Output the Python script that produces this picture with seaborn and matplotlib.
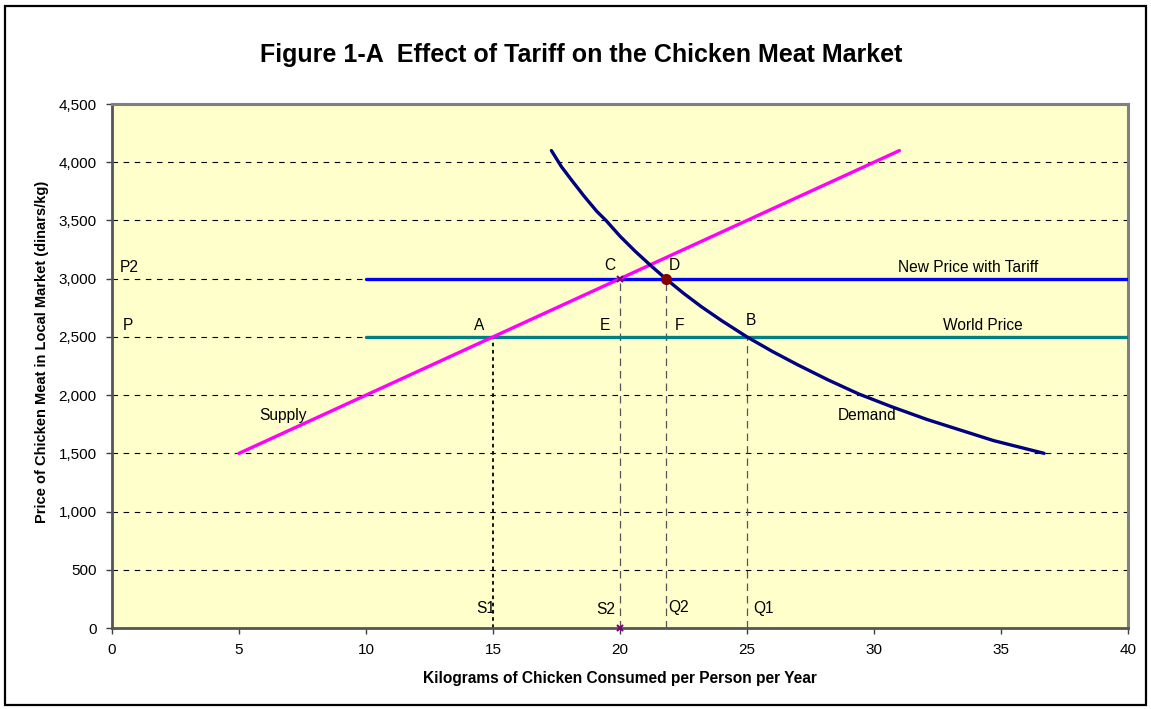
import matplotlib
matplotlib.use("Agg")
import matplotlib.pyplot as plt
import pandas as pd
import seaborn as sns

# ---------------------------
# Data
# ---------------------------

supply_qty = [5, 31]
supply_price = [1500, 4100]

demand_qty = [17.3, 17.7, 18.1, 18.6, 19.1, 19.45, 20.0, 20.6, 21.2, 21.8, 22.5, 23.2,
              24.0, 25.0, 26.0, 27.0, 28.2, 29.4, 30.7, 32.1, 33.4, 34.7, 35.7, 36.7]
demand_price = [4100, 3960, 3845, 3705, 3575, 3500, 3365, 3235, 3115, 3000, 2875, 2760,
                2640, 2500, 2375, 2260, 2130, 2010, 1900, 1790, 1700, 1610, 1555, 1500]

tariff_qty = [10, 40]
tariff_price = [3000, 3000]

world_qty = [10, 40]
world_price = [2500, 2500]

# drop lines: quantity, price level
s1 = (15, 2500)
s2 = (20, 3000)
q2 = (21.8, 3000)
q1 = (25, 2500)

point_d = (21.8, 3000)
point_c = (20, 3000)

x_ticks = list(range(0, 45, 5))
y_ticks = list(range(0, 5000, 500))

sns.set_style("white")
plt.rcParams["font.family"] = ["Liberation Sans", "DejaVu Sans"]
plt.rcParams.update({"text.color": "black", "axes.labelcolor": "black",
                     "xtick.color": "black", "ytick.color": "black"})

fig = plt.figure(figsize=(11.51, 7.09), dpi=100)
ax = fig.add_axes([0.0973, 0.1142, 0.8827, 0.7391])
ax.set_facecolor("#FFFFCC")

# outer frame of the figure
fig.patches.append(plt.Rectangle((0.004, 0.006), 0.992, 0.985, transform=fig.transFigure,
                                 fill=False, edgecolor="black", linewidth=1.6))

# horizontal gridlines
for y in y_ticks[1:]:
    ax.axhline(y, color="black", linewidth=0.8, linestyle=(0, (5, 5)), zorder=1)

# drop lines
ax.plot([s1[0], s1[0]], [0, s1[1]], color="black", linewidth=1.3, linestyle=(0, (2, 2)), zorder=2)
for qx, py in [s2, q2, q1]:
    ax.plot([qx, qx], [0, py], color="#555555", linewidth=0.9, linestyle=(0, (6, 4)), zorder=2)

lw = 2.4
sns.lineplot(x=world_qty, y=world_price, color="#008080", linewidth=lw, ax=ax, zorder=3)
sns.lineplot(x=tariff_qty, y=tariff_price, color="#0000FF", linewidth=lw, ax=ax, zorder=3)
sns.lineplot(x=supply_qty, y=supply_price, color="#FF00FF", linewidth=lw, ax=ax, zorder=4,
             solid_capstyle="round")
demand = pd.DataFrame({"qty": demand_qty, "price": demand_price})
sns.lineplot(data=demand, x="qty", y="price", sort=False, color="#000080", linewidth=lw,
             ax=ax, zorder=4, solid_capstyle="round", solid_joinstyle="round")

ax.plot(*point_d, marker="o", markersize=7, color="#800000", zorder=6)
ax.plot(*point_c, marker="x", markersize=4, color="#800080", markeredgewidth=1.5, zorder=6)
ax.plot(point_c[0], 0, marker="x", markersize=4, color="#800080", markeredgewidth=1.5,
        zorder=6, clip_on=False)

# point and curve labels (centre positions)
labels = [
    ("P2", 0.69, 3092), ("P", 0.61, 2594),
    ("C", 19.6, 3109), ("D", 22.12, 3109),
    ("A", 14.46, 2602), ("E", 19.41, 2602), ("F", 22.36, 2602), ("B", 25.15, 2645),
    ("S1", 14.7, 172), ("S2", 19.45, 155), ("Q2", 22.3, 180), ("Q1", 25.66, 172),
    ("Supply", 6.72, 1821), ("Demand", 29.74, 1821),
    ("New Price with Tariff", 33.71, 3100), ("World Price", 34.3, 2594),
]
for txt, x, y in labels:
    ax.text(x, y, txt, fontsize=11.2, color="black", ha="center", va="center", zorder=7)

ax.set_xlim(0, 40)
ax.set_ylim(0, 4500)
ax.set_xticks(x_ticks)
ax.set_yticks(y_ticks)
ax.set_yticklabels([f"{v:,}" for v in y_ticks])
ax.tick_params(axis="both", labelsize=11, length=4, width=1, color="#404040",
               direction="out", bottom=True, left=True, pad=7)

for side in ["top", "right"]:
    ax.spines[side].set_color("#808080")
    ax.spines[side].set_linewidth(2.2)
for side in ["left", "bottom"]:
    ax.spines[side].set_color("#555555")
    ax.spines[side].set_linewidth(2.0)

ax.set_xlabel("Kilograms of Chicken Consumed per Person per Year", fontsize=11.2,
              fontweight="bold", labelpad=10)
ax.set_ylabel("Price of Chicken Meat in Local Market (dinars/kg)", fontsize=10.5,
              fontweight="bold")
ax.yaxis.set_label_coords(-0.062, 0.527)

fig.text(0.505, 0.922, "Figure 1-A  Effect of Tariff on the Chicken Meat Market",
         fontsize=18, fontweight="bold", ha="center", va="center")

plt.savefig("out.png", dpi=100)
